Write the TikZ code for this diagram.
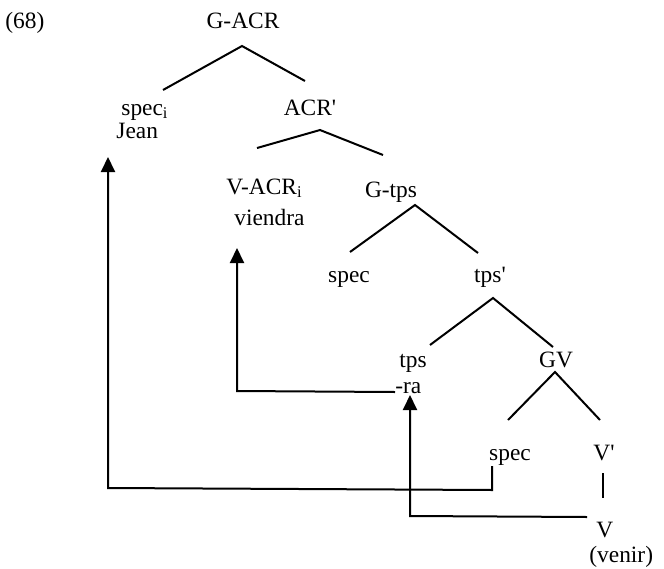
\documentclass[tikz,border=0pt]{standalone}
\usepackage{fontspec}
\setmainfont{Liberation Serif}
\usetikzlibrary{arrows.meta}
\begin{document}
\begin{tikzpicture}[x=0.5pt,y=-0.5pt,
  lbl/.style={inner sep=0pt, font=\fontsize{11.7}{14}\selectfont},
  branch/.style={line width=1pt},
  mv/.style={line width=1pt, -{Triangle[length=7.5pt,width=7pt]}}]
\useasboundingbox (0,0) rectangle (664,568);
% labels
\node[lbl,anchor=base west] (ex) at (5,28) {(68)};
\node[lbl,anchor=base] (gacr) at (243,28) {G-ACR};
\node[lbl,anchor=base west] (speci) at (121,115) {spec\textsubscript{i}};
\node[lbl,anchor=base west] (jean) at (116,138) {Jean};
\node[lbl,anchor=base] (acrbar) at (310,115) {ACR\textquotesingle};
\node[lbl,anchor=base west] (vacr) at (226,194) {V-ACR\textsubscript{i}};
\node[lbl,anchor=base west] (viendra) at (234,225) {viendra};
\node[lbl,anchor=base] (gtps) at (391,197) {G-tps};
\node[lbl,anchor=base] (spec1) at (349,282) {spec};
\node[lbl,anchor=base] (tpsbar) at (490,282) {tps\textquotesingle};
\node[lbl,anchor=base] (tps) at (413,367) {tps};
\node[lbl,anchor=base] (gv) at (556,367) {GV};
\node[lbl,anchor=base west] (ra) at (395,393) {-ra};
\node[lbl,anchor=base] (spec2) at (510,460) {spec};
\node[lbl,anchor=base] (vbar) at (604,460) {V\textquotesingle};
\node[lbl,anchor=base west] (v) at (596,537) {V};
\node[lbl,anchor=base west] (venir) at (589,562) {(venir)};
% branch end points
\coordinate (gacr-t) at (242,46);
\coordinate (speci-t) at (163,90);
\coordinate (acrbar-t) at (305,81);
\coordinate (acrbar-b) at (320,130);
\coordinate (vacr-t) at (257,148);
\coordinate (gtps-u) at (383,155);
\coordinate (gtps-b) at (415,205);
\coordinate (spec1-t) at (350,252);
\coordinate (tpsbar-t) at (478,253);
\coordinate (tpsbar-b) at (493,298);
\coordinate (tps-t) at (430,345);
\coordinate (gv-t) at (553,347);
\coordinate (gv-b) at (555,372);
\coordinate (spec2-t) at (508,420);
\coordinate (vbar-t) at (600,420);
\coordinate (vbar-b) at (603,473);
\coordinate (v-t) at (603,498);
% branches
\draw[branch] (speci-t) -- (gacr-t) -- (acrbar-t);
\draw[branch] (vacr-t) -- (acrbar-b) -- (gtps-u);
\draw[branch] (spec1-t) -- (gtps-b) -- (tpsbar-t);
\draw[branch] (tps-t) -- (tpsbar-b) -- (gv-t);
\draw[branch] (spec2-t) -- (gv-b) -- (vbar-t);
\draw[branch] (vbar-b) -- (v-t);
% movement
\coordinate (m1a) at (492,466);
\coordinate (m1b) at (492,490);
\coordinate (m1c) at (108,488);
\coordinate (m1d) at (108,157);
\draw[mv] (m1a) -- (m1b) -- (m1c) -- (m1d);
\coordinate (m2a) at (587,517);
\coordinate (m2b) at (410,516);
\coordinate (m2c) at (410,395);
\draw[mv] (m2a) -- (m2b) -- (m2c);
\coordinate (m3a) at (395,392);
\coordinate (m3b) at (237,391);
\coordinate (m3c) at (237,248);
\draw[mv] (m3a) -- (m3b) -- (m3c);
\end{tikzpicture}
\end{document}
